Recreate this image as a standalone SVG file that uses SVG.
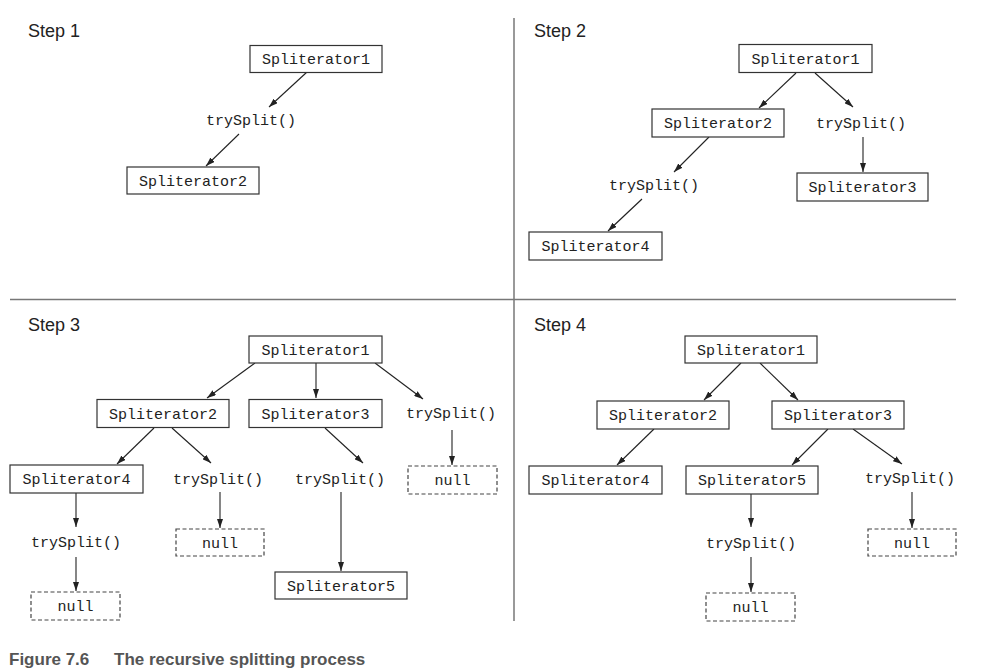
<svg xmlns="http://www.w3.org/2000/svg" width="985" height="672" viewBox="0 0 985 672">
  <defs>
    <marker id="arrow" viewBox="0 0 9 6" refX="9" refY="3" markerWidth="9" markerHeight="6" markerUnits="userSpaceOnUse" orient="auto">
      <path d="M0,0 L9,3 L0,6 z" fill="#222"/>
    </marker>
    <style>
      .box { fill: #fff; stroke: #333; stroke-width: 1.2; }
      .nullbox { fill: #fff; stroke: #444; stroke-width: 1.2; stroke-dasharray: 4 2.5; }
      .mono { font-family: "Liberation Mono", "DejaVu Sans Mono", monospace; font-size: 15px; fill: #222; text-anchor: middle; }
      .step { font-family: "Liberation Sans", Arial, sans-serif; font-size: 18px; fill: #222; }
      .caption { font-family: "Liberation Sans", Arial, sans-serif; font-size: 17px; font-weight: bold; fill: #555; }
      .edge { stroke: #222; stroke-width: 1.1; fill: none; marker-end: url(#arrow); }
      .divider { stroke: #777; stroke-width: 1.5; }
    </style>
  </defs>

  <rect width="985" height="672" fill="#fff"/>

  <!-- quadrant dividers -->
  <g id="dividers">
    <line class="divider" x1="514" y1="18" x2="514" y2="621"/>
    <line class="divider" x1="10" y1="299.5" x2="956" y2="299.5"/>
  </g>

  <!-- step titles -->
  <g id="titles">
    <text class="step" x="28" y="37">Step 1</text>
    <text class="step" x="534" y="37">Step 2</text>
    <text class="step" x="28" y="331">Step 3</text>
    <text class="step" x="534" y="331">Step 4</text>
  </g>

  <!-- connectors -->
  <g id="connectors">
    <!-- step 1 -->
    <line class="edge" x1="307" y1="72" x2="269" y2="107"/>
    <line class="edge" x1="239" y1="134" x2="206" y2="166"/>
    <!-- step 2 -->
    <line class="edge" x1="796" y1="73" x2="759" y2="108"/>
    <line class="edge" x1="815" y1="73" x2="853" y2="107"/>
    <line class="edge" x1="863" y1="137" x2="863" y2="172"/>
    <line class="edge" x1="709" y1="137" x2="674" y2="172"/>
    <line class="edge" x1="642" y1="199" x2="608" y2="231"/>
    <!-- step 3 -->
    <line class="edge" x1="255" y1="363" x2="207" y2="398"/>
    <line class="edge" x1="316" y1="363" x2="316" y2="398"/>
    <line class="edge" x1="375" y1="363" x2="423" y2="399"/>
    <line class="edge" x1="452" y1="430" x2="452" y2="465"/>
    <line class="edge" x1="154" y1="428" x2="117" y2="464"/>
    <line class="edge" x1="172" y1="428" x2="211" y2="463"/>
    <line class="edge" x1="325" y1="428" x2="363" y2="463"/>
    <line class="edge" x1="220" y1="492" x2="220" y2="528"/>
    <line class="edge" x1="341" y1="492" x2="341" y2="571"/>
    <line class="edge" x1="76" y1="493" x2="76" y2="527"/>
    <line class="edge" x1="76" y1="557" x2="76" y2="591"/>
    <!-- step 4 -->
    <line class="edge" x1="741" y1="363" x2="704" y2="400"/>
    <line class="edge" x1="760" y1="363" x2="798" y2="400"/>
    <line class="edge" x1="654" y1="429" x2="617" y2="465"/>
    <line class="edge" x1="828" y1="429" x2="792" y2="465"/>
    <line class="edge" x1="853" y1="429" x2="902" y2="464"/>
    <line class="edge" x1="912" y1="492" x2="912" y2="528"/>
    <line class="edge" x1="751" y1="494" x2="751" y2="527"/>
    <line class="edge" x1="751" y1="557" x2="751" y2="592"/>
  </g>

  <!-- Step 1 nodes -->
  <g id="s1-spliterator1"><rect class="box" x="250" y="45.5" width="132" height="27"/><text class="mono" x="316" y="64">Spliterator1</text></g>
  <g id="s1-trysplit"><text class="mono" x="251" y="125">trySplit()</text></g>
  <g id="s1-spliterator2"><rect class="box" x="127" y="167" width="132" height="27"/><text class="mono" x="193" y="185.5">Spliterator2</text></g>

  <!-- Step 2 nodes -->
  <g id="s2-spliterator1"><rect class="box" x="739" y="44.5" width="133" height="28"/><text class="mono" x="805.5" y="63.5">Spliterator1</text></g>
  <g id="s2-spliterator2"><rect class="box" x="652" y="109" width="132" height="28"/><text class="mono" x="718" y="128">Spliterator2</text></g>
  <g id="s2-trysplit-a"><text class="mono" x="861" y="128">trySplit()</text></g>
  <g id="s2-spliterator3"><rect class="box" x="797" y="173" width="131" height="28"/><text class="mono" x="862.5" y="192">Spliterator3</text></g>
  <g id="s2-trysplit-b"><text class="mono" x="654" y="190">trySplit()</text></g>
  <g id="s2-spliterator4"><rect class="box" x="529" y="232" width="133" height="28"/><text class="mono" x="595.5" y="251">Spliterator4</text></g>

  <!-- Step 3 nodes -->
  <g id="s3-spliterator1"><rect class="box" x="249" y="336" width="133" height="27"/><text class="mono" x="315.5" y="354.5">Spliterator1</text></g>
  <g id="s3-spliterator2"><rect class="box" x="97" y="399.5" width="132" height="28"/><text class="mono" x="163" y="418.5">Spliterator2</text></g>
  <g id="s3-spliterator3"><rect class="box" x="249" y="399.5" width="133" height="28"/><text class="mono" x="315.5" y="418.5">Spliterator3</text></g>
  <g id="s3-trysplit-a"><text class="mono" x="451" y="418">trySplit()</text></g>
  <g id="s3-null-a"><rect class="nullbox" x="408" y="466" width="89" height="28"/><text class="mono" x="452.5" y="485">null</text></g>
  <g id="s3-spliterator4"><rect class="box" x="10" y="465" width="133" height="28"/><text class="mono" x="76.5" y="484">Spliterator4</text></g>
  <g id="s3-trysplit-b"><text class="mono" x="218" y="484">trySplit()</text></g>
  <g id="s3-null-b"><rect class="nullbox" x="176" y="529" width="88" height="27"/><text class="mono" x="220" y="547.5">null</text></g>
  <g id="s3-trysplit-c"><text class="mono" x="340" y="484">trySplit()</text></g>
  <g id="s3-spliterator5"><rect class="box" x="275" y="572" width="132" height="27"/><text class="mono" x="341" y="590.5">Spliterator5</text></g>
  <g id="s3-trysplit-d"><text class="mono" x="76" y="547">trySplit()</text></g>
  <g id="s3-null-c"><rect class="nullbox" x="31" y="592" width="89" height="28"/><text class="mono" x="75.5" y="611">null</text></g>

  <!-- Step 4 nodes -->
  <g id="s4-spliterator1"><rect class="box" x="685" y="336" width="132" height="27"/><text class="mono" x="751" y="354.5">Spliterator1</text></g>
  <g id="s4-spliterator2"><rect class="box" x="597" y="401" width="132" height="28"/><text class="mono" x="663" y="420">Spliterator2</text></g>
  <g id="s4-spliterator3"><rect class="box" x="772" y="401" width="132" height="28"/><text class="mono" x="838" y="420">Spliterator3</text></g>
  <g id="s4-spliterator4"><rect class="box" x="529" y="466" width="133" height="28"/><text class="mono" x="595.5" y="485">Spliterator4</text></g>
  <g id="s4-spliterator5"><rect class="box" x="686" y="466" width="132" height="28"/><text class="mono" x="752" y="485">Spliterator5</text></g>
  <g id="s4-trysplit-a"><text class="mono" x="910" y="483">trySplit()</text></g>
  <g id="s4-null-a"><rect class="nullbox" x="868" y="529" width="88" height="27"/><text class="mono" x="912" y="547.5">null</text></g>
  <g id="s4-trysplit-b"><text class="mono" x="751" y="548">trySplit()</text></g>
  <g id="s4-null-b"><rect class="nullbox" x="706" y="593" width="89" height="28"/><text class="mono" x="750.5" y="612">null</text></g>

  <!-- caption -->
  <g id="caption">
    <text class="caption" x="9" y="665">Figure 7.6</text>
    <text class="caption" x="114" y="665">The recursive splitting process</text>
  </g>
</svg>
